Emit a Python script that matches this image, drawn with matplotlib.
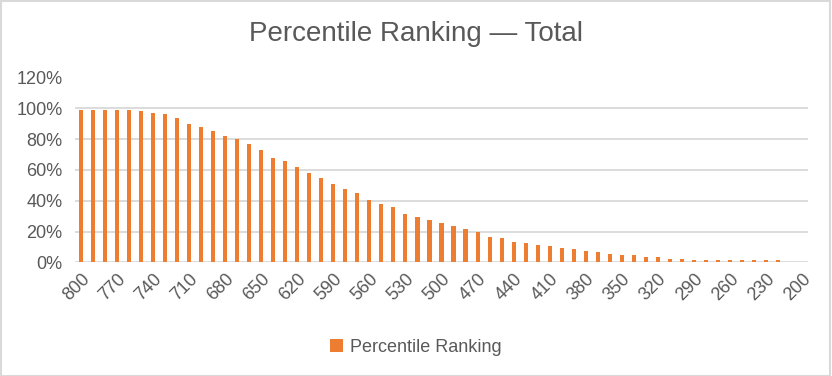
import numpy as np
import matplotlib.pyplot as plt
from matplotlib.patches import Rectangle

plt.rcParams['font.family'] = ['Liberation Sans', 'DejaVu Sans']

# scores 800 down to 200, step 10
scores = list(range(800, 190, -10))
pct = [0.989, 0.989, 0.989, 0.989, 0.989, 0.983, 0.970, 0.963, 0.937, 0.898,
       0.879, 0.853, 0.820, 0.801, 0.768, 0.729, 0.677, 0.658, 0.619, 0.580,
       0.549, 0.510, 0.475, 0.449, 0.406, 0.380, 0.358, 0.315, 0.293, 0.273,
       0.254, 0.234, 0.215, 0.197, 0.165, 0.156, 0.132, 0.124, 0.111, 0.106,
       0.093, 0.087, 0.074, 0.067, 0.054, 0.048, 0.048, 0.035, 0.035, 0.022,
       0.022, 0.015, 0.015, 0.015, 0.015, 0.015, 0.015, 0.015, 0.015,
       0.0, 0.0]
yticks = [0, 0.2, 0.4, 0.6, 0.8, 1.0, 1.2]

orange = '#ED7D31'
grey = '#595959'

fig = plt.figure(figsize=(8.32, 3.76), dpi=100)
ax = fig.add_axes([75/832, 1-262.3/376, 733/832, 184.8/376])

x = np.arange(len(scores))
ax.bar(x, pct, width=0.34, color=orange, label='Percentile Ranking', zorder=3)

ax.set_xlim(-0.5, len(scores) - 0.5)
ax.set_ylim(0, 1.2)
ax.set_yticks(yticks)
ax.set_yticklabels([f'{int(round(v*100))}%' for v in yticks])
ax.set_xticks(x[::3])
ax.set_xticklabels([str(s) for s in scores[::3]], rotation=45,
                   ha='right', va='top', rotation_mode='anchor')
ax.grid(axis='y', color='#D9D9D9', linewidth=1.3, zorder=0)
ax.tick_params(axis='y', length=0, pad=9, labelsize=13, labelcolor=grey)
ax.tick_params(axis='x', length=0, pad=6, labelsize=13, labelcolor=grey)
for s in ax.spines.values():
    s.set_visible(False)

fig.text(0.5, 1-34/376, 'Percentile Ranking — Total', ha='center', va='center',
         fontsize=20, color=grey)

ax.legend(loc='center', bbox_to_anchor=(0.465, -0.46), frameon=False,
          fontsize=13, labelcolor=grey, handlelength=0.7, handleheight=0.7,
          handletextpad=0.4)

fig.patches.append(Rectangle((0.001, 0.001), 0.997, 0.996, transform=fig.transFigure,
                             fill=False, edgecolor='#D9D9D9', linewidth=1.5))

fig.savefig('out.png', dpi=100)
